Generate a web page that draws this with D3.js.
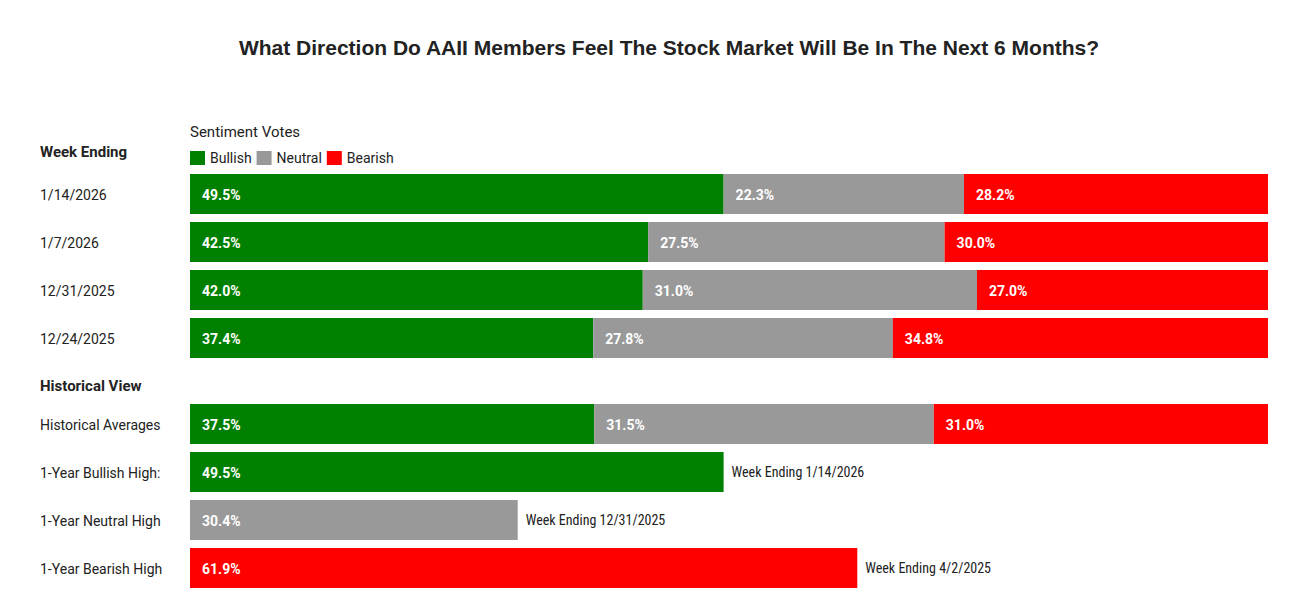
<!DOCTYPE html>
<html><head><meta charset="utf-8">
<script src="https://cdn.jsdelivr.net/npm/d3@7/dist/d3.min.js"></script>
<style>body{margin:0;background:#fff}</style>
</head><body><svg id="c" width="1308" height="595"></svg>
<script>
const weeks = ["1/14/2026","1/7/2026","12/31/2025","12/24/2025"];
const bullish = [49.5,42.5,42.0,37.4];
const neutral = [22.3,27.5,31.0,27.8];
const bearish = [28.2,30.0,27.0,34.8];
const histAvg = [37.5,31.5,31.0];
const highLabels = ["1-Year Bullish High:","1-Year Neutral High","1-Year Bearish High"];
const highValues = [49.5,30.4,61.9];
const highNotes = ["Week Ending 1/14/2026","Week Ending 12/31/2025","Week Ending 4/2/2025"];
const seriesNames = ["Bullish","Neutral","Bearish"];
const colors = ["#008000","#999999","#ff0000"];

const svg = d3.select("#c");
const x = d3.scaleLinear().domain([0,100]).range([190,1268]);
const F = "Roboto, 'Noto Sans', sans-serif";

svg.append("text").attr("x",669).attr("y",55).attr("text-anchor","middle")
  .attr("font-family","'Liberation Sans', Arial, sans-serif").attr("font-weight","bold")
  .attr("font-size",21).attr("fill","#222").text("What Direction Do AAII Members Feel The Stock Market Will Be In The Next 6 Months?");

svg.append("text").attr("x",190).attr("y",137).attr("font-family",F).attr("font-size",15).attr("fill","#222").text("Sentiment Votes");
let lx=190;
seriesNames.forEach((n,i)=>{
  svg.append("rect").attr("x",lx).attr("y",151).attr("width",15).attr("height",14).attr("fill",colors[i]);
  const t=svg.append("text").attr("x",lx+20).attr("y",163).attr("font-family",F).attr("font-size",14).attr("fill","#222").text(n);
  lx += 20 + t.node().getComputedTextLength() + 5;
});
svg.append("text").attr("x",40).attr("y",157).attr("font-family",F).attr("font-weight","bold").attr("font-size",15).attr("fill","#222").text("Week Ending");
svg.append("text").attr("x",40).attr("y",391).attr("font-family",F).attr("font-weight","bold").attr("font-size",15).attr("fill","#222").text("Historical View");

function stacked(vals,y,label){
  svg.append("text").attr("x",40).attr("y",y+26).attr("font-family",F).attr("font-size",14).attr("fill","#222").text(label);
  let acc=0;
  vals.forEach((v,i)=>{
    svg.append("rect").attr("x",x(acc)).attr("y",y).attr("width",x(acc+v)-x(acc)).attr("height",40).attr("fill",colors[i]);
    svg.append("text").attr("x",x(acc)+12).attr("y",y+26).attr("font-family",F).attr("font-weight","bold")
      .attr("font-size",14).attr("fill","#fff").text(v.toFixed(1)+"%");
    acc+=v;
  });
}
weeks.forEach((w,i)=>stacked([bullish[i],neutral[i],bearish[i]],174+48*i,w));
stacked(histAvg,404,"Historical Averages");
highLabels.forEach((l,i)=>{
  const y=452+48*i;
  svg.append("text").attr("x",40).attr("y",y+26).attr("font-family",F).attr("font-size",14).attr("fill","#222").text(l);
  svg.append("rect").attr("x",x(0)).attr("y",y).attr("width",x(highValues[i])-x(0)).attr("height",40).attr("fill",colors[i]);
  svg.append("text").attr("x",x(0)+12).attr("y",y+26).attr("font-family",F).attr("font-weight","bold").attr("font-size",14).attr("fill","#fff").text(highValues[i].toFixed(1)+"%");
  svg.append("text").attr("x",x(highValues[i])+8).attr("y",y+25).attr("font-family","'Liberation Sans Narrow', 'Roboto Condensed', Roboto, sans-serif").attr("font-size",14).attr("fill","#222").text(highNotes[i]);
});
</script></body></html>
